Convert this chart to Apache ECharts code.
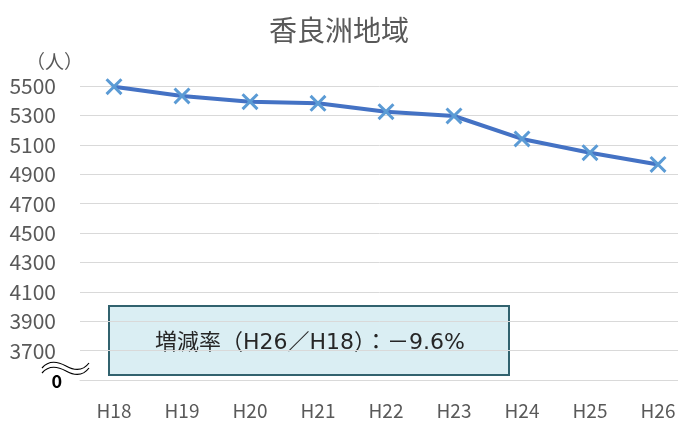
<!DOCTYPE html>
<html>
<head>
<meta charset="utf-8">
<script src="https://cdn.jsdelivr.net/npm/echarts@6/dist/echarts.min.js"></script>
<style>
  html, body { margin: 0; padding: 0; background: #fff; }
  #chart { width: 678px; height: 423px; }
</style>
</head>
<body>
<div id="chart"></div>
<script>
// 年度
const years = ['H18', 'H19', 'H20', 'H21', 'H22', 'H23', 'H24', 'H25', 'H26'];
// 人口（人）
const population = [5495, 5432, 5393, 5382, 5325, 5296, 5140, 5046, 4966];
// 縦軸の範囲（一番下は「0」と表示）
const yMin = 3500;
const yMax = 5500;
const yStep = 200;
const changeText = '増減率（H26／H18）：－9.6%';

const jpFont = '"Noto Sans CJK JP", sans-serif';
const labelColor = '#595959';

// × マーカー
const crossSymbol = 'path://M0,2.5L2.5,0L10,7.5L17.5,0L20,2.5L12.5,10L20,17.5L17.5,20L10,12.5L2.5,20L0,17.5L7.5,10Z';

// 波線（軸の省略記号）
function wave(dy) {
  const lineStyle = { fill: 'none', stroke: '#000', lineWidth: 1.2 };
  return [
    { type: 'bezierCurve', shape: { x1: 42, y1: 368 + dy, cpx1: 48, cpy1: 361 + dy, cpx2: 57, cpy2: 361 + dy, x2: 66, y2: 366 + dy }, style: lineStyle },
    { type: 'bezierCurve', shape: { x1: 66, y1: 366 + dy, cpx1: 75, cpy1: 371 + dy, cpx2: 83, cpy2: 371 + dy, x2: 89, y2: 363 + dy }, style: lineStyle }
  ];
}

const chart = echarts.init(document.getElementById('chart'));

const option = {
  animation: false,
  title: {
    text: '香良洲地域',
    left: 'center',
    top: 11,
    textStyle: { fontFamily: jpFont, fontSize: 28, fontWeight: 'normal', color: labelColor }
  },
  // 右端の H26 はフレームからはみ出している
  grid: { left: 80, right: -14, top: 86, bottom: 43, containLabel: false, outerBoundsMode: 'none' },
  xAxis: {
    type: 'category',
    data: years,
    boundaryGap: true,
    axisTick: { show: false },
    axisLine: { lineStyle: { color: '#d9d9d9', width: 1 } },
    axisLabel: { margin: 21, fontSize: 19, fontFamily: jpFont, color: labelColor }
  },
  yAxis: {
    type: 'value',
    min: yMin,
    max: yMax,
    interval: yStep,
    axisLine: { show: false },
    axisTick: { show: false },
    splitLine: { lineStyle: { color: '#d9d9d9', width: 1 } },
    axisLabel: {
      margin: 24,
      fontSize: 21,
      fontFamily: jpFont,
      color: labelColor,
      formatter: v => (v === yMin ? '{zero|0}' : String(v)),
      rich: {
        zero: { fontSize: 18, fontWeight: 'bold', color: '#000', fontFamily: jpFont, padding: [2, -6, 0, 0] }
      }
    }
  },
  series: [{
    type: 'line',
    data: population,
    symbol: crossSymbol,
    symbolSize: 17,
    itemStyle: { color: '#5b9bd5' },
    lineStyle: { color: '#4472c4', width: 4 },
    z: 3
  }],
  graphic: [
    {
      type: 'text',
      left: 26,
      top: 52,
      style: { text: '（人）', font: '19px ' + jpFont, fill: labelColor }
    },
    ...wave(0),
    ...wave(5),
    {
      type: 'group',
      left: 108,
      top: 305,
      children: [
        {
          type: 'rect',
          shape: { x: 0, y: 0, width: 400, height: 69 },
          style: { fill: '#daeef3', stroke: '#31626e', lineWidth: 2 }
        },
        {
          type: 'text',
          x: 201,
          y: 37,
          style: {
            text: changeText,
            font: '22px "DejaVu Sans", "Noto Sans CJK JP", sans-serif',
            fill: '#262626',
            align: 'center',
            verticalAlign: 'middle'
          }
        }
      ]
    }
  ]
};

chart.setOption(option);
</script>
</body>
</html>
